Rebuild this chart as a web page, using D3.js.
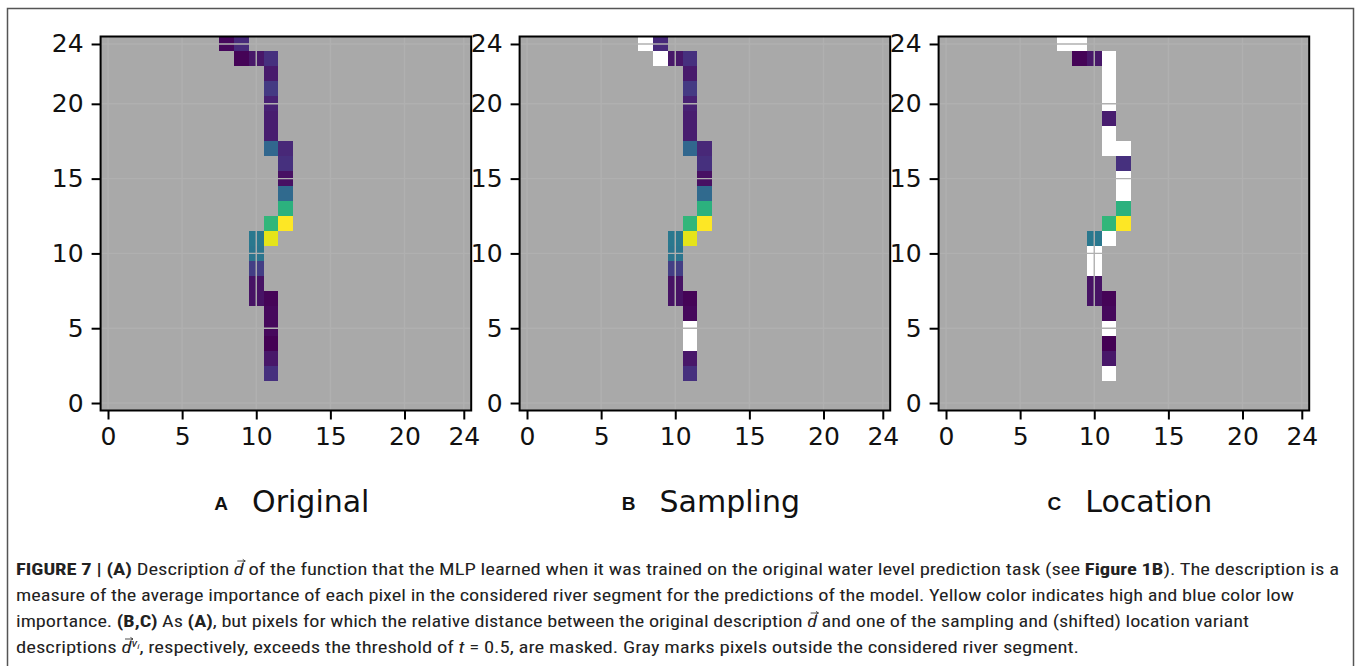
<!DOCTYPE html>
<html><head><meta charset="utf-8">
<script src="https://cdn.jsdelivr.net/npm/d3@7"></script>
<style>html,body{margin:0;padding:0;background:#fff;} svg{display:block}</style>
</head><body>
<svg id="fig" width="1358" height="666"></svg>
<script>
// ---------------- data ----------------
const tickValues = [0, 5, 10, 15, 20, 24];
const panelLetters = ["A", "B", "C"];
const panelTitles = ["Original", "Sampling", "Location"];
// river-segment pixels (column, row) and their importance (0 = low, 1 = high)
const cellCol = [8, 9, 9, 10, 11, 11, 11, 11, 11, 11, 11, 12, 12, 12, 12, 12, 11, 12, 10, 11, 10, 10, 10, 10, 11, 11, 11, 11, 11, 11];
const cellRow = [24, 24, 23, 23, 23, 22, 21, 20, 19, 18, 17, 17, 16, 15, 14, 13, 12, 12, 11, 11, 10, 9, 8, 7, 7, 6, 5, 4, 3, 2];
const importance = [0.02, 0.12, 0.01, 0.06, 0.14, 0.07, 0.17, 0.09, 0.08, 0.08, 0.33, 0.11, 0.14, 0.04, 0.34, 0.64, 0.66, 1.0, 0.40, 0.96, 0.39, 0.18, 0.05, 0.05, 0.01, 0.02, 0.02, 0.0, 0.06, 0.14];
// masked pixels [column, row]
const maskedOriginal = [];
const maskedSampling = [[8, 24], [9, 23], [11, 5], [11, 4]];
const maskedLocation = [[8, 24], [9, 24], [11, 23], [11, 22], [11, 21], [11, 20], [11, 18], [11, 17], [12, 17], [12, 15], [12, 14], [11, 11], [10, 10], [10, 9], [11, 5], [11, 2]];
const panelMasks = [maskedOriginal, maskedSampling, maskedLocation];

// ---------------- layout ----------------
const svg = d3.select("#fig");
const axW = 370.6, axTop = 36.5, axH = 374;
const panelLeft = [100.6, 519.6, 938.6];
const bgGray = "#a9a9a9";
const tickFont = "'DejaVu Sans', Verdana, sans-serif";

// outer figure border
svg.append("rect").attr("x", 7.5).attr("y", 8.5).attr("width", 1346).attr("height", 700)
  .attr("fill", "none").attr("stroke", "#555").attr("stroke-width", 1.5);

const color = d3.scaleSequential(d3.interpolateViridis).domain([0, 1]);
const cells = cellCol.map((c, i) => ({ col: c, row: cellRow[i], v: importance[i] }));

panelTitles.forEach((title, p) => {
  const x0 = panelLeft[p];
  const xs = d3.scaleLinear().domain([-0.5, 24.5]).range([x0, x0 + axW]);
  const ys = d3.scaleLinear().domain([-0.5, 24.5]).range([axTop + axH, axTop]);
  const g = svg.append("g");
  const maskSet = new Set(panelMasks[p].map(d => d[0] + "," + d[1]));

  g.append("rect").attr("x", xs(-0.5)).attr("y", ys(24.5))
    .attr("width", xs(24.5) - xs(-0.5)).attr("height", ys(-0.5) - ys(24.5))
    .attr("fill", bgGray);

  g.selectAll("rect.cell").data(cells).join("rect").attr("class", "cell")
    .attr("x", d => xs(d.col - 0.5))
    .attr("y", d => ys(d.row + 0.5))
    .attr("width", d => xs(d.col + 0.5) - xs(d.col - 0.5))
    .attr("height", d => ys(d.row - 0.5) - ys(d.row + 0.5))
    .attr("fill", d => maskSet.has(d.col + "," + d.row) ? "#ffffff" : color(d.v))
    .attr("shape-rendering", "crispEdges");

  // grid
  g.selectAll("line.gx").data(tickValues).join("line").attr("class", "gx")
    .attr("x1", d => xs(d)).attr("x2", d => xs(d))
    .attr("y1", ys(24.5)).attr("y2", ys(-0.5))
    .attr("stroke", "#b0b0b0").attr("stroke-width", 1.4);
  g.selectAll("line.gy").data(tickValues).join("line").attr("class", "gy")
    .attr("y1", d => ys(d)).attr("y2", d => ys(d))
    .attr("x1", xs(-0.5)).attr("x2", xs(24.5))
    .attr("stroke", "#b0b0b0").attr("stroke-width", 1.4);

  // axes
  const ax = g.append("g").attr("transform", `translate(0,${ys(-0.5)})`)
    .call(d3.axisBottom(xs).tickValues(tickValues).tickSize(9).tickPadding(8).tickFormat(d3.format("d")));
  const ay = g.append("g").attr("transform", `translate(${xs(-0.5)},0)`)
    .call(d3.axisLeft(ys).tickValues(tickValues).tickSize(9).tickPadding(8).tickFormat(d3.format("d")));
  [ax, ay].forEach(a => {
    a.select(".domain").remove();
    a.selectAll(".tick line").attr("stroke", "#000").attr("stroke-width", 2);
    a.selectAll(".tick text").attr("font-family", tickFont).attr("font-size", 25).attr("fill", "#111");
  });

  // frame
  g.append("rect").attr("x", xs(-0.5)).attr("y", ys(24.5))
    .attr("width", xs(24.5) - xs(-0.5)).attr("height", ys(-0.5) - ys(24.5))
    .attr("fill", "none").attr("stroke", "#000").attr("stroke-width", 2);

  // panel label: bold letter + title, centred under the panel
  const lab = g.append("text").attr("x", x0 + axW / 2 + 6).attr("y", 512)
    .attr("text-anchor", "middle").attr("fill", "#111");
  lab.append("tspan").attr("font-family", "'Liberation Sans', Arial, sans-serif")
    .attr("font-weight", "bold").attr("font-size", 19).attr("dy", -2).text(panelLetters[p]);
  lab.append("tspan").attr("font-family", tickFont).attr("font-size", 30)
    .attr("dx", 24).attr("dy", 2).text(title);
});

// ---------------- caption ----------------
const captionLines = [
  { len: 1323, segs: [["FIGURE 7 | (A)", "b"], [" Description ", ""], ["d", "vec"], [" of the function that the MLP learned when it was trained on the original water level prediction task (see ", ""], ["Figure 1B", "b"], ["). The description is a", ""]] },
  { len: 1278, segs: [["measure of the average importance of each pixel in the considered river segment for the predictions of the model. Yellow color indicates high and blue color low", ""]] },
  { len: 1233, segs: [["importance. ", ""], ["(B,C)", "b"], [" As ", ""], ["(A)", "b"], [", but pixels for which the relative distance between the original description ", ""], ["d", "vec"], [" and one of the sampling and (shifted) location variant", ""]] },
  { len: 1063, segs: [["descriptions ", ""], ["d", "vec"], ["v", "sup"], ["i", "sub2"], [", respectively, exceeds the threshold of ", "back"], ["t", "i"], [" = 0.5, are masked. Gray marks pixels outside the considered river segment.", ""]] }
];
const capBase = [575, 601, 627, 653];
const capFont = "'Liberation Sans Narrow', 'Roboto Condensed', 'Liberation Sans', Arial, sans-serif";

captionLines.forEach((line, li) => {
  const t = svg.append("text").attr("x", 16).attr("y", capBase[li])
    .attr("font-family", capFont).attr("font-size", 16.5).attr("fill", "#222")
    .attr("textLength", line.len).attr("lengthAdjust", "spacingAndGlyphs");
  const vecIdx = [];
  let idx = 0;
  line.segs.forEach(([txt, kind]) => {
    const s = t.append("tspan").text(txt);
    if (kind === "b") s.attr("font-weight", "bold");
    if (kind === "i" || kind === "vec") s.attr("font-style", "italic");
    if (kind === "vec") vecIdx.push(idx);
    if (kind === "sup") s.attr("font-style", "italic").attr("font-size", 11).attr("dy", -6);
    if (kind === "sub2") s.attr("font-style", "italic").attr("font-size", 8).attr("dy", 2);
    if (kind === "back") s.attr("dy", 4);
    idx += txt.length;
  });
  const node = t.node();
  vecIdx.forEach(ci => {
    let ext;
    try { ext = node.getExtentOfChar(ci); } catch (e) { return; }
    const ax1 = ext.x + ext.width * 0.35, ax2 = ext.x + ext.width + 1.5;
    const ay0 = capBase[li] - 14;
    svg.append("line").attr("x1", ax1).attr("x2", ax2).attr("y1", ay0).attr("y2", ay0)
      .attr("stroke", "#222").attr("stroke-width", 0.8);
    svg.append("path").attr("d", `M${ax2 - 2.5},${ay0 - 1.6} L${ax2},${ay0} L${ax2 - 2.5},${ay0 + 1.6}`)
      .attr("fill", "none").attr("stroke", "#222").attr("stroke-width", 0.8);
  });
});
</script>
</body></html>
